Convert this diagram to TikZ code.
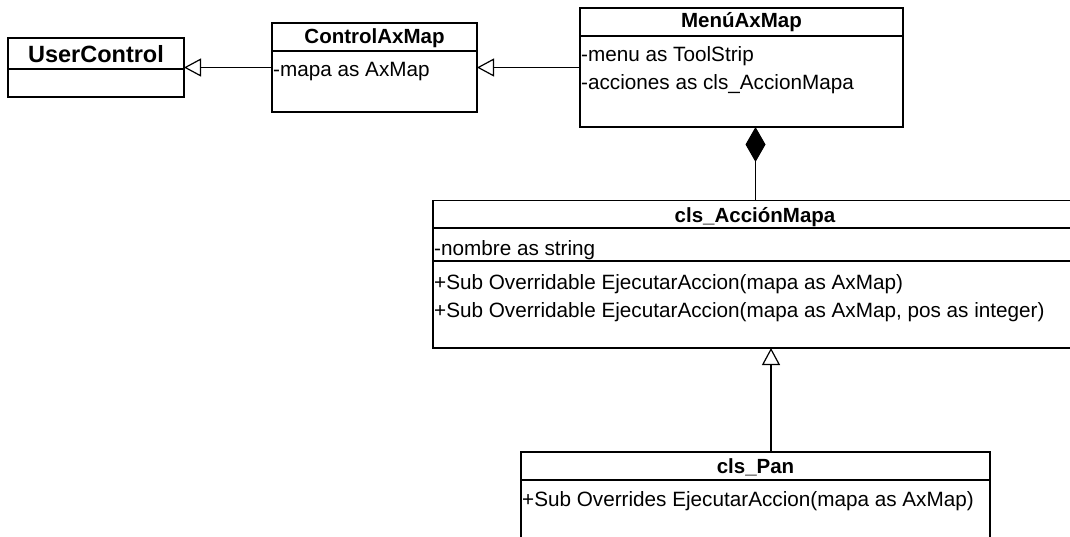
\documentclass[tikz,border=0pt]{standalone}
\usepackage{fontspec}
\setmainfont{Liberation Sans}
\usetikzlibrary{arrows.meta}

\tikzset{
	classbox/.style={draw, line width=1.4pt, inner sep=0pt, outer sep=0pt, anchor=north west},
	divider/.style={line width=1.2pt},
	classname/.style={anchor=base, inner sep=0pt, font=\bfseries\fontsize{20.5}{24}\selectfont},
	bigname/.style={classname, font=\bfseries\fontsize{23.5}{28}\selectfont},
	member/.style={anchor=base west, inner sep=0pt, font=\fontsize{20.7}{24}\selectfont},
	inherit/.style={line width=1.2pt, -{Triangle[open, length=17pt, width=18pt, line width=1.2pt]}},
	composition/.style={line width=1.2pt, {Diamond[length=35pt, width=20pt]}-}
}

\begin{document}
\begin{tikzpicture}[x=1pt, y=-1pt]
	\useasboundingbox (0,0) rectangle (1070,537);
	
		% classes
		\node[classbox, minimum width=176pt, minimum height=59pt] (usercontrol) at (8,38) {};
		\node[classbox, minimum width=205pt, minimum height=89pt] (controlaxmap) at (272,23) {};
		\node[classbox, minimum width=323pt, minimum height=119pt] (menuaxmap) at (580,8) {};
		\node[classbox, minimum width=644pt, minimum height=147.5pt] (clsaccion) at (433,200.5) {};
		\node[classbox, minimum width=469pt, minimum height=120pt] (clspan) at (521,452) {};
		
		% compartments
		\draw[divider] ([yshift=-31pt]usercontrol.north west) -- ([yshift=-31pt]usercontrol.north east);
		\draw[divider] ([yshift=-28pt]controlaxmap.north west) -- ([yshift=-28pt]controlaxmap.north east);
		\draw[divider] ([yshift=-28pt]menuaxmap.north west) -- ([yshift=-28pt]menuaxmap.north east);
		\draw[divider] ([yshift=-27.5pt]clsaccion.north west) -- ([yshift=-27.5pt]clsaccion.north east);
		\draw[divider] ([yshift=-60.5pt]clsaccion.north west) -- ([yshift=-60.5pt]clsaccion.north east);
		\draw[divider] ([yshift=-28pt]clspan.north west) -- ([yshift=-28pt]clspan.north east);
		
		% texts
		\node[bigname] at ([yshift=-24.7pt]usercontrol.north) {UserControl};
		\node[classname] at ([yshift=-20.3pt]controlaxmap.north) {ControlAxMap};
		\node[member] at ([xshift=1pt,yshift=-53.7pt]controlaxmap.north west) {-mapa as AxMap};
		\node[classname] at ([yshift=-20pt]menuaxmap.north) {MenúAxMap};
		\node[member] at ([xshift=1pt,yshift=-54pt]menuaxmap.north west) {-menu as ToolStrip};
		\node[member] at ([xshift=1pt,yshift=-82pt]menuaxmap.north west) {-acciones as cls\_AccionMapa};
		\node[classname] at ([yshift=-22.5pt]clsaccion.north) {cls\_AcciónMapa};
		\node[member] at ([xshift=1pt,yshift=-54.5pt]clsaccion.north west) {-nombre as string};
		\node[member] at ([xshift=1pt,yshift=-88.5pt]clsaccion.north west) {+Sub Overridable EjecutarAccion(mapa as AxMap)};
		\node[member] at ([xshift=1pt,yshift=-116.5pt]clsaccion.north west) {+Sub Overridable EjecutarAccion(mapa as AxMap, pos as integer)};
		\node[classname] at ([yshift=-21pt]clspan.north) {cls\_Pan};
		\node[member] at ([xshift=1pt,yshift=-54.5pt]clspan.north west) {+Sub Overrides EjecutarAccion(mapa as AxMap)};
		
		% relations
		\draw[inherit] (controlaxmap) -- (usercontrol);
		\draw[inherit] (menuaxmap) -- (controlaxmap);
		\draw[composition] ([xshift=14pt]menuaxmap.south) -- ([xshift=14pt]menuaxmap.south |- clsaccion.north);
		\draw[inherit] ([xshift=15.5pt]clspan.north) -- ([xshift=15.5pt]clspan.north |- clsaccion.south);
	\end{tikzpicture}
\end{document}
